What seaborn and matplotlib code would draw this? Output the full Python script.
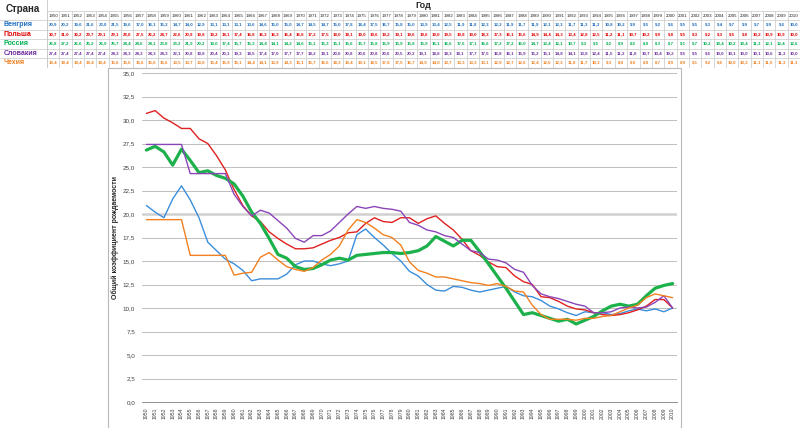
import pandas as pd
import numpy as np
from matplotlib import pyplot as plt
from matplotlib.patches import Rectangle
import seaborn as sns

years = list(range(1950, 2011))

hungary = [20.9, 20.2, 19.6, 21.6, 23.0, 21.5, 19.6, 17.0, 16.1, 15.2,
           14.7, 14.0, 12.9, 13.1, 13.1, 13.1, 13.6, 14.6, 15.0, 15.0,
           14.7, 14.5, 14.7, 15.0, 17.8, 18.4, 17.5, 16.7, 15.8, 15.0,
           13.9, 13.4, 12.5, 11.9, 11.8, 12.3, 12.2, 11.9, 11.7, 11.9,
           12.1, 12.3, 11.7, 11.3, 11.2, 10.8, 10.2, 9.9, 9.5, 9.2,
           9.6, 9.5, 9.5, 9.3, 9.4, 9.7, 9.9, 9.7, 9.9, 9.6, 10.0]

poland = [30.7, 31.0, 30.2, 29.7, 29.1, 29.1, 28.0, 27.5, 26.2, 24.7,
          22.6, 20.9, 19.8, 19.2, 18.1, 17.4, 16.8, 16.3, 16.3, 16.4,
          16.8, 17.2, 17.5, 18.0, 18.1, 19.0, 19.6, 19.2, 19.1, 19.6,
          19.6, 19.0, 19.5, 19.8, 19.0, 18.3, 17.3, 16.1, 15.6, 14.9,
          14.4, 14.3, 13.4, 12.8, 12.5, 11.2, 11.1, 10.7, 10.2, 9.9,
          9.8, 9.5, 9.3, 9.2, 9.3, 9.5, 9.8, 10.2, 10.9, 10.9, 10.0]

russia = [26.8, 27.2, 26.6, 25.2, 26.9, 25.7, 24.4, 24.6, 24.1, 23.8,
          23.2, 21.9, 20.2, 19.0, 17.4, 15.7, 15.3, 14.4, 14.1, 14.2,
          14.6, 15.1, 15.3, 15.1, 15.6, 15.7, 15.8, 15.9, 15.9, 15.8,
          15.9, 16.1, 16.6, 17.6, 17.1, 16.6, 17.2, 17.2, 16.0, 14.7,
          13.4, 12.1, 10.7, 9.3, 9.5, 9.2, 8.9, 8.6, 8.8, 8.3,
          8.7, 9.1, 9.7, 10.2, 10.4, 10.2, 10.4, 11.3, 12.1, 12.4, 12.6]

slovakia = [27.4, 27.4, 27.4, 27.4, 27.4, 24.3, 24.3, 24.3, 24.3, 24.3,
            22.1, 20.8, 19.8, 20.4, 20.1, 19.3, 18.5, 17.4, 17.0, 17.7,
            17.7, 18.2, 19.1, 20.0, 20.8, 20.6, 20.8, 20.6, 20.5, 20.3,
            19.1, 18.8, 18.3, 18.1, 17.7, 17.5, 16.8, 16.1, 15.9, 15.2,
            15.1, 14.8, 14.1, 13.8, 12.4, 11.5, 11.2, 11.0, 10.7, 10.4,
            10.2, 9.5, 9.5, 9.6, 10.0, 10.1, 10.0, 10.1, 10.6, 11.3, 10.0]

czech = [19.4, 19.4, 19.4, 19.4, 19.4, 15.6, 15.6, 15.6, 15.6, 15.6,
         13.5, 13.7, 13.8, 15.4, 15.9, 15.1, 14.4, 14.1, 13.9, 14.3,
         15.1, 15.7, 16.6, 18.3, 19.4, 19.1, 18.5, 17.8, 17.5, 16.7,
         14.9, 14.0, 13.7, 13.3, 13.3, 13.1, 12.9, 12.7, 12.6, 12.4,
         12.6, 12.3, 11.8, 11.7, 10.3, 9.3, 8.8, 8.8, 8.8, 8.7,
         8.9, 8.9, 9.1, 9.2, 9.6, 10.0, 10.3, 11.1, 11.5, 11.3, 11.1]

countries = ['Венгрия', 'Польша', 'Россия', 'Словакия', 'Чехия']
series = [hungary, poland, russia, slovakia, czech]
text_colors = ['#1f6fc0', '#e00000', '#00b050', '#7030a0', '#f08020']
line_colors = ['#3a8edb', '#e02020', '#1db14b', '#8a45b8', '#f28020']
line_widths = [1.0, 1.0, 2.3, 1.0, 1.0]

df = pd.DataFrame({
    'year': years * len(countries),
    'value': sum(series, []),
    'country': np.repeat(countries, len(years)),
})


def fmt(v):
    return f'{v:.1f}'.replace('.', ',')


sns.set_style('white')
plt.rcParams['font.family'] = ['Liberation Sans', 'DejaVu Sans']

W, H = 800, 428
fig = plt.figure(figsize=(8, 4.28), dpi=100)

# ---- table at the top, drawn in pixel coordinates
tab = fig.add_axes([0, (H - 68) / H, 1, 68 / H])
tab.set_xlim(0, W)
tab.set_ylim(68, 0)
tab.axis('off')

first_w = 47
col_w = (W - first_w) / len(years)
row_tops = [11, 20, 29.5, 39, 48.5, 58, 67.5]
grid_c = '#c8c8c8'

for y in row_tops:
    tab.plot([0 if y > 11 else first_w, W], [y, y], color=grid_c, lw=0.5)
tab.plot([first_w, first_w], [0, 67.5], color=grid_c, lw=0.6)
for i in range(len(years) + 1):
    x = first_w + i * col_w
    tab.plot([x, x], [11, 67.5], color=grid_c, lw=0.5)

tab.text(23, 9, 'Страна', ha='center', va='center', fontsize=7,
         fontweight='bold')
tab.text(423, 5, 'Год', ha='center', va='center', fontsize=6.5,
         fontweight='bold')

for i, yr in enumerate(years):
    cx = first_w + (i + 0.5) * col_w
    tab.text(cx, 15.8, str(yr), ha='center', va='center', fontsize=3.2,
             color='#202020')

for r, (name, vals, c) in enumerate(zip(countries, series, text_colors)):
    cy = (row_tops[r + 1] + row_tops[r + 2]) / 2
    tab.text(4, cy, name, ha='left', va='center', fontsize=5,
             fontweight='bold', color=c, zorder=5)
    for i, v in enumerate(vals):
        cx = first_w + (i + 0.5) * col_w
        tab.text(cx, cy, fmt(v), ha='center', va='center', fontsize=3.2,
                 fontweight='bold', color=c)

# ---- chart frame
fig.patches.append(Rectangle((108 / W, -0.02), (681 - 108) / W,
                             (H - 68) / H + 0.02, transform=fig.transFigure,
                             fill=False, edgecolor='#b8b8b8', lw=0.8))

# ---- line chart
ax = fig.add_axes([142 / W, 26 / H, 535 / W, 329 / H])
for name, c, lw in zip(countries, line_colors, line_widths):
    sns.lineplot(data=df[df['country'] == name], x='year', y='value',
                 color=c, linewidth=lw, ax=ax, legend=False)

yticks = np.arange(0, 35.01, 2.5)
ax.set_ylim(0, 35)
ax.set_yticks(yticks)
ax.set_yticklabels([fmt(t) for t in yticks], fontsize=4.5, color='#404040')
for t in yticks[1:]:
    ax.axhline(t, color='#d0d0d0' if t == 20 else '#bdbdbd',
               lw=1.8 if t == 20 else 0.7, zorder=0)

ax.set_xlim(years[0] - 0.5, years[-1] + 0.5)
ax.set_xticks(years)
ax.set_xticklabels([str(y) for y in years], rotation=90, fontsize=3.7,
                   color='#404040')
ax.set_xticks(np.arange(years[0] - 0.5, years[-1] + 1), minor=True)
ax.tick_params(axis='x', which='major', length=0, pad=4)
ax.tick_params(axis='x', which='minor', length=2.5, width=0.5,
               color='#909090')
ax.tick_params(axis='y', length=0, pad=5)

ax.set_xlabel('')
ax.set_ylabel('Общий коэффициент рождаемости', fontsize=5,
              fontweight='bold', labelpad=3)

for s in ['top', 'right', 'left']:
    ax.spines[s].set_visible(False)
ax.spines['bottom'].set_color('#909090')
ax.spines['bottom'].set_linewidth(0.7)

plt.savefig('out.png', dpi=100)
